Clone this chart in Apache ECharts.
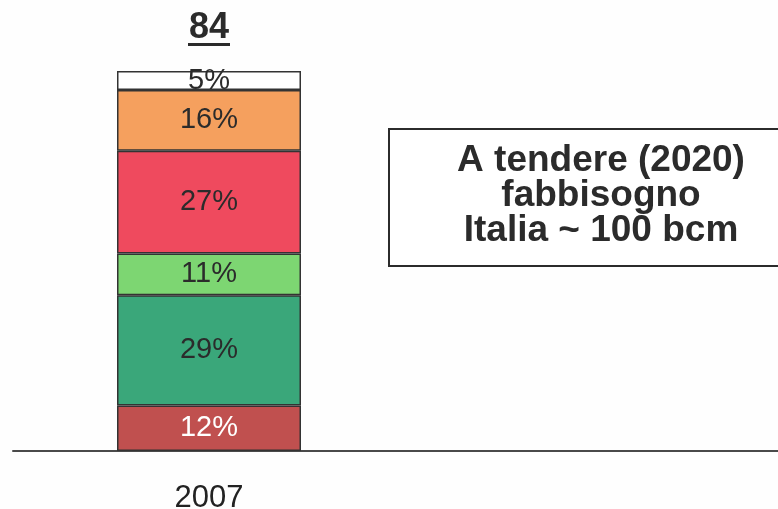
<!DOCTYPE html>
<html>
<head>
<meta charset="utf-8">
<script src="https://cdn.jsdelivr.net/npm/echarts@6/dist/echarts.min.js"></script>
<style>
  html, body { margin: 0; padding: 0; background: #fefefe; }
  #chart { width: 778px; height: 509px; }
</style>
</head>
<body>
<div id="chart"></div>
<script>
// Gas supply mix for Italy, 2007 (shares of total demand, %)
const years = ['2007', ''];          // second slot is left empty (2020 outlook box)
const totalBcm = 84;                 // total demand in bcm
const segmentNames = ['s1', 's2', 's3', 's4', 's5', 's6'];
const segmentShares = [12, 29, 11, 27, 16, 5];   // bottom to top
const segmentColors = ['#c0504f', '#3aa77a', '#7dd672', '#ef4a5e', '#f5a05e', '#ffffff'];
const labelColors = ['#ffffff', '#2b2b2b', '#2b2b2b', '#2b2b2b', '#2b2b2b', '#2b2b2b'];
const noteLines = ['A tendere (2020)', 'fabbisogno', 'Italia ~ 100 bcm'];

const chart = echarts.init(document.getElementById('chart'));

const series = segmentShares.map((v, i) => ({
  name: segmentNames[i],
  type: 'bar',
  stack: 'mix',
  barWidth: 184,
  data: [v, null],
  itemStyle: { color: segmentColors[i], borderColor: '#333', borderWidth: 1.5 },
  label: {
    show: true,
    position: 'inside',
    formatter: '{c}%',
    color: labelColors[i],
    fontFamily: 'Liberation Sans',
    fontSize: 29
  },
  silent: true
}));

// zero-height cap on the stack carrying the underlined total
series.push({
  name: 'total',
  type: 'bar',
  stack: 'mix',
  barWidth: 184,
  data: [0, null],
  itemStyle: { color: 'transparent' },
  label: {
    show: true,
    position: 'top',
    distance: 25,
    formatter: () => '{v|' + totalBcm + '}\n{u|}',
    rich: {
      v: { fontFamily: 'Liberation Sans', fontWeight: 'bold', fontSize: 36, color: '#2b2b2b', lineHeight: 29 },
      u: { width: 42, height: 3, lineHeight: 3, backgroundColor: '#2b2b2b' }
    }
  },
  silent: true
});

chart.setOption({
  backgroundColor: '#fefefe',
  animation: false,
  grid: { left: 13, top: 71, bottom: 58, right: -19, outerBoundsMode: 'none', containLabel: false },
  xAxis: {
    type: 'category',
    data: years,
    axisLine: { show: true, lineStyle: { color: '#4a4a4a', width: 2 } },
    axisTick: { show: false },
    axisLabel: { fontFamily: 'Liberation Sans', fontSize: 31, color: '#222', margin: 32 }
  },
  yAxis: {
    type: 'value',
    min: 0,
    max: 100,
    show: false
  },
  series: series,
  graphic: [{
    type: 'group',
    left: 388,
    top: 128,
    children: [{
      type: 'rect',
      shape: { x: 0, y: 0, width: 420, height: 137 },
      style: { fill: '#ffffff', stroke: '#2b2b2b', lineWidth: 2 }
    }, {
      type: 'text',
      x: 212,
      y: 67,
      style: {
        text: noteLines.join('\n'),
        fontFamily: 'Liberation Sans',
        fontWeight: 'bold',
        fontSize: 37,
        lineHeight: 35,
        fill: '#2b2b2b',
        align: 'center',
        verticalAlign: 'middle'
      }
    }]
  }]
});
</script>
</body>
</html>
